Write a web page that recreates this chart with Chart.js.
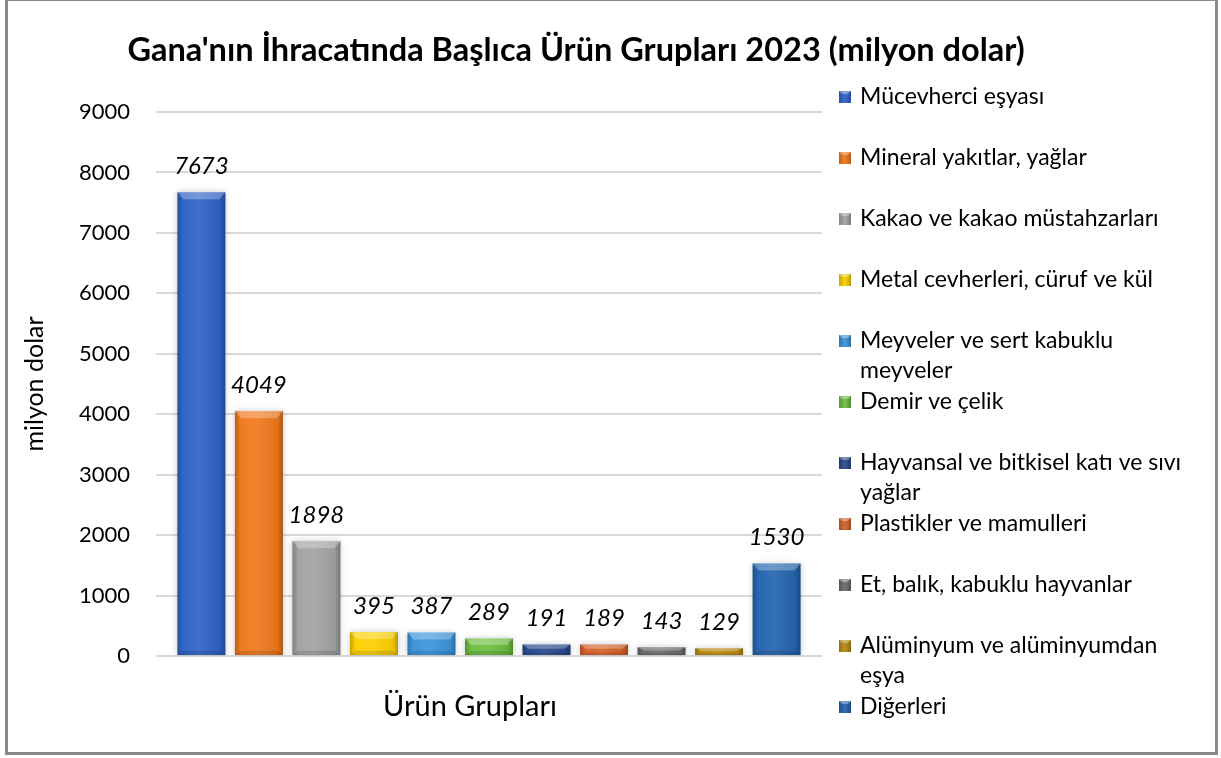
<!DOCTYPE html>
<html>
<head>
<meta charset="utf-8">
<script src="https://cdn.jsdelivr.net/npm/chart.js@4.4.1/dist/chart.umd.min.js"></script>
<style>
  html, body { margin: 0; padding: 0; background: #ffffff; }
  #wrap { position: relative; width: 1221px; height: 758px; }
</style>
</head>
<body>
<div id="wrap"><canvas id="c" width="1221" height="758"></canvas></div>
<script>
// ---- data ----
const chartTitle = "Gana'nın İhracatında Başlıca Ürün Grupları 2023 (milyon dolar)";
const categories = ['Ürün Grupları'];
const seriesNames = [
  'Mücevherci eşyası',
  'Mineral yakıtlar, yağlar',
  'Kakao ve kakao müstahzarları',
  'Metal cevherleri, cüruf ve kül',
  'Meyveler ve sert kabuklu meyveler',
  'Demir ve çelik',
  'Hayvansal ve bitkisel katı ve sıvı yağlar',
  'Plastikler ve mamulleri',
  'Et, balık, kabuklu hayvanlar',
  'Alüminyum ve alüminyumdan eşya',
  'Diğerleri'
];
const seriesValues = [7673, 4049, 1898, 395, 387, 289, 191, 189, 143, 129, 1530];
const yAxisTitle = 'milyon dolar';
const yMin = 0, yMax = 9000, yStep = 1000;

// ---- styles ----
const seriesColors = ['#2f63c8', '#f0781c', '#a2a2a2', '#fdd000', '#3b95db', '#6cbd3e',
                      '#284a8e', '#d5612a', '#6b6b6b', '#b88a12', '#2465ae'];
const FONT = 'Lato, "Open Sans", "DejaVu Sans", sans-serif';

function hexToRgb(h) {
  const n = parseInt(h.slice(1), 16);
  return [(n >> 16) & 255, (n >> 8) & 255, n & 255];
}
function shade(h, amt) {
  const [r, g, b] = hexToRgb(h);
  const t = amt < 0 ? 0 : 255, p = Math.abs(amt);
  const f = v => Math.round(v + (t - v) * p);
  return 'rgb(' + f(r) + ',' + f(g) + ',' + f(b) + ')';
}
function barFill(c, base) {
  const el = c.chart.getDatasetMeta(c.datasetIndex).data[c.dataIndex];
  if (!el || !isFinite(el.x) || !el.width) return base;
  const x0 = el.x - el.width / 2, x1 = el.x + el.width / 2;
  const g = c.chart.ctx.createLinearGradient(x0, 0, x1, 0);
  g.addColorStop(0, shade(base, -0.22));
  g.addColorStop(0.12, shade(base, 0.02));
  g.addColorStop(0.45, shade(base, 0.08));
  g.addColorStop(0.88, shade(base, -0.05));
  g.addColorStop(1, shade(base, -0.28));
  return g;
}

const datasets = seriesNames.map((name, i) => ({
  label: name,
  data: [seriesValues[i]],
  backgroundColor: c => barFill(c, seriesColors[i]),
  borderWidth: 0,
  categoryPercentage: 0.95,
  barPercentage: 0.835
}));

// ---- plugins ----
const framePlugin = {
  id: 'frame',
  beforeDraw(chart) {
    const ctx = chart.ctx;
    ctx.save();
    ctx.fillStyle = '#ffffff';
    ctx.fillRect(0, 0, chart.width, chart.height);
    ctx.restore();
  },
  afterDraw(chart) {
    const ctx = chart.ctx;
    ctx.save();
    ctx.strokeStyle = '#8a8a8a';
    ctx.lineWidth = 3;
    ctx.strokeRect(6.5, -0.5, 1210, 754);
    // title
    ctx.fillStyle = '#000000';
    ctx.font = 'bold 32.5px ' + FONT;
    ctx.textAlign = 'center';
    ctx.textBaseline = 'middle';
    ctx.fillText(chartTitle, 576, 51);
    ctx.restore();
  }
};

const barDecorPlugin = {
  id: 'barDecor',
  beforeDatasetsDraw(chart) {
    const ctx = chart.ctx;
    ctx.save();
    ctx.shadowColor = 'rgba(0,0,0,0.22)';
    ctx.shadowBlur = 6;
    ctx.shadowOffsetX = 0;
    ctx.shadowOffsetY = 0;
  },
  afterDatasetsDraw(chart) {
    const ctx = chart.ctx;
    ctx.restore();
    ctx.save();
    chart.data.datasets.forEach((ds, i) => {
      const meta = chart.getDatasetMeta(i);
      meta.data.forEach((el, j) => {
        const x0 = el.x - el.width / 2, x1 = el.x + el.width / 2;
        const top = el.y, bottom = el.base;
        const h = Math.min(7, (bottom - top) / 2.5);
        // top bevel highlight
        ctx.fillStyle = 'rgba(255,255,255,0.28)';
        ctx.beginPath();
        ctx.moveTo(x0, top); ctx.lineTo(x1, top);
        ctx.lineTo(x1 - 6, top + h); ctx.lineTo(x0 + 6, top + h);
        ctx.closePath(); ctx.fill();
        // bottom bevel shade
        ctx.fillStyle = 'rgba(0,0,0,0.12)';
        ctx.beginPath();
        ctx.moveTo(x0, bottom); ctx.lineTo(x1, bottom);
        ctx.lineTo(x1 - 6, bottom - h * 0.6); ctx.lineTo(x0 + 6, bottom - h * 0.6);
        ctx.closePath(); ctx.fill();
        // value label
        ctx.fillStyle = '#000000';
        ctx.font = 'italic 24px ' + FONT;
        ctx.textAlign = 'center';
        ctx.textBaseline = 'middle';
        ctx.fillText(String(ds.data[j]), el.x, el.y - 26);
      });
    });
    ctx.restore();
  }
};

function wrapText(ctx, text, maxW) {
  const words = text.split(' ');
  const lines = [];
  let cur = '';
  words.forEach(w => {
    const test = cur ? cur + ' ' + w : w;
    if (cur && ctx.measureText(test).width > maxW) { lines.push(cur); cur = w; }
    else cur = test;
  });
  if (cur) lines.push(cur);
  return lines;
}

const legendPlugin = {
  id: 'sideLegend',
  afterDraw(chart) {
    const ctx = chart.ctx;
    ctx.save();
    ctx.font = '23px ' + FONT;
    ctx.textBaseline = 'middle';
    ctx.textAlign = 'left';
    const x0 = 839, tx = 860, y0 = 97, step = 61, lh = 30, box = 12;
    chart.data.datasets.forEach((ds, i) => {
      const y = y0 + i * step;
      const base = seriesColors[i];
      const g = ctx.createLinearGradient(x0, 0, x0 + box, 0);
      g.addColorStop(0, shade(base, -0.2));
      g.addColorStop(0.5, shade(base, 0.08));
      g.addColorStop(1, shade(base, -0.25));
      ctx.fillStyle = g;
      ctx.fillRect(x0, y - box / 2, box, box);
      ctx.fillStyle = 'rgba(255,255,255,0.35)';
      ctx.beginPath();
      ctx.moveTo(x0, y - box / 2); ctx.lineTo(x0 + box, y - box / 2);
      ctx.lineTo(x0 + box - 3, y - box / 2 + 3); ctx.lineTo(x0 + 3, y - box / 2 + 3);
      ctx.closePath(); ctx.fill();
      ctx.fillStyle = '#000000';
      const lines = wrapText(ctx, ds.label, 335);
      lines.forEach((ln, k) => ctx.fillText(ln, tx, y + k * lh));
    });
    ctx.restore();
  }
};

const chart = new Chart(document.getElementById('c'), {
  type: 'bar',
  data: { labels: categories, datasets },
  options: {
    responsive: false,
    animation: false,
    layout: { padding: { top: 112, right: 399, bottom: 0, left: 0 } },
    plugins: {
      legend: { display: false },
      title: { display: false },
      tooltip: { enabled: false }
    },
    scales: {
      x: {
        afterFit(scale) { scale.height = 102; },
        grid: { display: false, drawTicks: false },
        border: { display: false },
        ticks: {
          color: '#000000',
          font: { family: FONT, size: 29 },
          padding: 33,
          labelOffset: -19
        }
      },
      y: {
        min: yMin, max: yMax,
        afterFit(scale) { scale.width = 156; },
        border: { display: false },
        grid: { color: '#d9d9d9', lineWidth: 2, drawTicks: false },
        ticks: {
          stepSize: yStep,
          color: '#000000',
          font: { family: FONT, size: 22 },
          padding: 26,
          callback: v => String(v)
        },
        title: {
          display: true,
          text: yAxisTitle,
          color: '#000000',
          font: { family: FONT, size: 25 },
          padding: { top: 20, bottom: 0 }
        }
      }
    }
  },
  plugins: [framePlugin, barDecorPlugin, legendPlugin]
});
chart.update('none');
</script>
</body>
</html>
